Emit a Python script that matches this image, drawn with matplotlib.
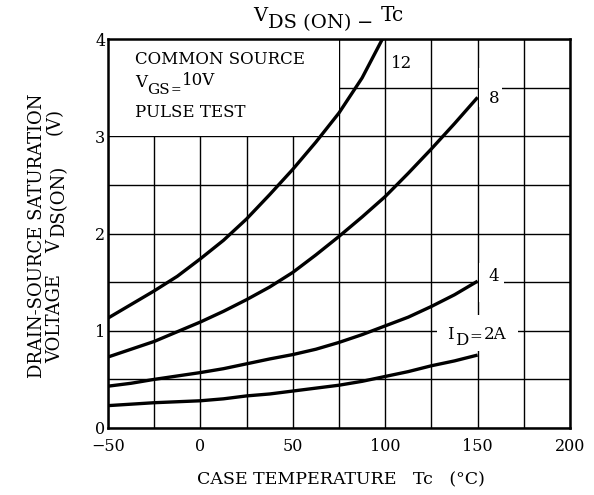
import matplotlib
matplotlib.use('Agg')
import matplotlib.pyplot as plt
from matplotlib.patches import Rectangle
import numpy as np

plt.rcParams['font.family'] = 'DejaVu Serif'

# Case temperature (deg C) and V_DS(ON) readings (V) for each drain current
tc = [-50, -37.5, -25, -12.5, 0, 12.5, 25, 37.5, 50, 62.5, 75, 87.5, 100, 112.5, 125, 137.5, 150]
vds_2a = [0.23, 0.245, 0.26, 0.27, 0.28, 0.30, 0.33, 0.35, 0.38, 0.41, 0.44, 0.48, 0.53, 0.58, 0.64, 0.69, 0.75]
vds_4a = [0.43, 0.46, 0.50, 0.535, 0.57, 0.61, 0.66, 0.71, 0.755, 0.81, 0.88, 0.96, 1.05, 1.14, 1.25, 1.37, 1.51]
vds_8a = [0.73, 0.81, 0.89, 0.99, 1.09, 1.20, 1.32, 1.45, 1.60, 1.78, 1.97, 2.17, 2.38, 2.62, 2.87, 3.13, 3.40]
tc_12 = [-50, -37.5, -25, -12.5, 0, 12.5, 25, 37.5, 50, 62.5, 75, 87.5, 98.5]
vds_12a = [1.13, 1.27, 1.41, 1.56, 1.74, 1.93, 2.15, 2.40, 2.66, 2.94, 3.24, 3.60, 4.0]

W, H = 594, 495
fig = plt.figure(figsize=(W / 100, H / 100), dpi=100)
ax = fig.add_axes([108 / W, 1 - 428 / H, 462 / W, 389 / H])


def ftxt(x, y, s, size=12, **kw):
    # x, y in picture pixels from the top-left corner, y is the baseline
    return fig.text(x / W, 1 - y / H, s, fontsize=size, va='baseline', zorder=4, **kw)


ax.set_xlim(-50, 200)
ax.set_ylim(0, 4)
ax.set_xticks([-50, 0, 50, 100, 150, 200])
ax.set_xticklabels(['\u221250', '0', '50', '100', '150', '200'])
ax.set_yticks([0, 1, 2, 3, 4])
ax.set_xticks(np.arange(-50, 201, 25), minor=True)
ax.set_yticks(np.arange(0, 4.01, 0.5), minor=True)
ax.tick_params(which='both', length=0, labelsize=11.5)
ax.tick_params(axis='x', pad=7)
ax.tick_params(axis='y', pad=2)
ax.grid(which='both', color='black', lw=1.0, zorder=1)
ax.set_axisbelow(True)
for s in ax.spines.values():
    s.set_linewidth(1.8)

# blank areas: condition box and gaps behind the curve labels
white = dict(facecolor='white', edgecolor='none', zorder=1.5)
ax.add_patch(Rectangle((-50, 3), 125, 1, **white))
ax.add_patch(Rectangle((150.8, 3.3), 12.5, 0.4, **white))
ax.add_patch(Rectangle((150.8, 1.3), 13.5, 0.4, **white))
ax.add_patch(Rectangle((128, 0.79), 44, 0.37, **white))

kw = dict(color='black', lw=2.4, zorder=3, solid_capstyle='butt')
ax.plot(tc, vds_2a, **kw)
ax.plot(tc, vds_4a, **kw)
ax.plot(tc, vds_8a, **kw)
ax.plot(tc_12, vds_12a, **kw)

# title
ftxt(253, 21, 'V', 14)
ftxt(268, 28, 'DS (ON)', 14)
ftxt(357, 28, '\u2212', 14)
ftxt(381, 21, 'Tc', 14.5)

# test conditions
ftxt(135, 64, 'COMMON SOURCE', 12)
ftxt(135, 87, 'V', 12)
ftxt(147, 94, 'GS', 11)
ftxt(171, 93, '=', 9)
ftxt(182, 85, '10V', 12)
ftxt(135, 117, 'PULSE TEST', 12)

# curve labels
ftxt(391, 68, '12', 12)
ftxt(489, 103, '8', 12)
ftxt(488, 281, '4', 12)
ftxt(447, 339, 'I', 12)
ftxt(455, 345, 'D', 12)
ftxt(469, 341, '=', 11)
ftxt(484, 339, '2A', 12)

# axis titles
ftxt(197, 484, 'CASE TEMPERATURE   Tc   (\u00b0C)', 12.5)
rot = dict(rotation=90, rotation_mode='anchor')
fig.text(42 / W, 1 - 236 / H, 'DRAIN-SOURCE SATURATION', fontsize=13,
         ha='center', va='baseline', **rot)
fig.text(60 / W, 1 - 363 / H, 'VOLTAGE', fontsize=13, ha='left', va='baseline', **rot)
fig.text(60 / W, 1 - 253 / H, 'V', fontsize=13, ha='left', va='baseline', **rot)
fig.text(64 / W, 1 - 237 / H, 'DS(ON)', fontsize=13, ha='left', va='baseline', **rot)
fig.text(60 / W, 1 - 135 / H, '(V)', fontsize=13, ha='left', va='baseline', **rot)

fig.savefig('out.png', dpi=100)
